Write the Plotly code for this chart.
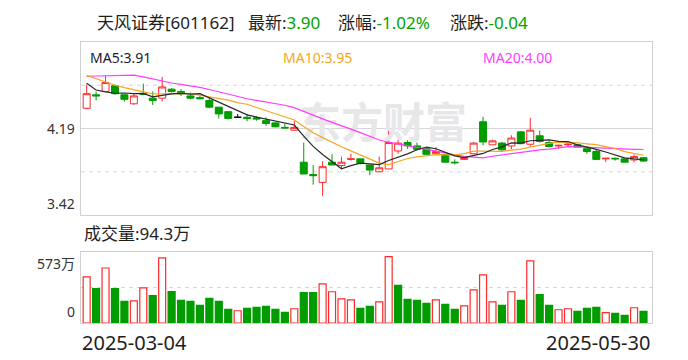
import plotly.graph_objects as go

# ---------------- data ----------------
stock_name = "天风证券"
stock_code = "601162"

dates = ["2025-03-04", "2025-03-05", "2025-03-06", "2025-03-07", "2025-03-10", "2025-03-11", "2025-03-12",
         "2025-03-13", "2025-03-14", "2025-03-17", "2025-03-18", "2025-03-19", "2025-03-20", "2025-03-21",
         "2025-03-24", "2025-03-25", "2025-03-26", "2025-03-27", "2025-03-28", "2025-03-31",
         "2025-04-01", "2025-04-02", "2025-04-03", "2025-04-07", "2025-04-08", "2025-04-09", "2025-04-10",
         "2025-04-11", "2025-04-14", "2025-04-15", "2025-04-16", "2025-04-17", "2025-04-18", "2025-04-21",
         "2025-04-22", "2025-04-23", "2025-04-24", "2025-04-25", "2025-04-28", "2025-04-29", "2025-04-30",
         "2025-05-06", "2025-05-07", "2025-05-08", "2025-05-09", "2025-05-12", "2025-05-13", "2025-05-14",
         "2025-05-15", "2025-05-16", "2025-05-19", "2025-05-20", "2025-05-21", "2025-05-22", "2025-05-23",
         "2025-05-26", "2025-05-27", "2025-05-28", "2025-05-29", "2025-05-30"]

opens = [4.37, 4.49, 4.52, 4.57, 4.49, 4.41, 4.50, 4.46, 4.46, 4.54,
         4.52, 4.48, 4.465, 4.44, 4.38, 4.34, 4.29, 4.29, 4.285, 4.26,
         4.24, 4.20, 4.175, 3.89, 3.78, 3.71, 3.89, 3.86, 3.915, 3.92,
         3.865, 3.805, 3.83, 3.99, 4.065, 4.035, 4.01, 3.965, 3.96, 3.89,
         3.915, 3.965, 4.25, 4.045, 4.06, 4.035, 4.16, 4.05, 4.125, 4.065,
         4.035, 4.045, 4.045, 4.01, 3.985, 3.92, 3.925, 3.92, 3.91, 3.93]
highs = [4.58, 4.52, 4.66, 4.58, 4.49, 4.50, 4.59, 4.52, 4.65, 4.55,
         4.54, 4.51, 4.48, 4.47, 4.38, 4.34, 4.32, 4.32, 4.30, 4.29,
         4.245, 4.235, 4.255, 4.065, 3.865, 3.90, 3.96, 3.94, 3.965, 3.92,
         3.865, 3.94, 4.19, 4.09, 4.085, 4.065, 4.025, 4.025, 3.96, 3.915,
         3.945, 4.07, 4.295, 4.09, 4.07, 4.13, 4.165, 4.285, 4.17, 4.08,
         4.045, 4.065, 4.055, 4.01, 4.00, 3.925, 3.93, 3.92, 3.96, 3.935]
lows = [4.36, 4.44, 4.52, 4.49, 4.43, 4.40, 4.49, 4.40, 4.43, 4.51,
        4.48, 4.45, 4.45, 4.37, 4.28, 4.27, 4.29, 4.255, 4.26, 4.215,
        4.20, 4.19, 4.17, 3.785, 3.69, 3.59, 3.865, 3.825, 3.905, 3.87,
        3.775, 3.805, 3.83, 3.965, 4.01, 3.995, 3.96, 3.965, 3.89, 3.87,
        3.91, 3.965, 4.04, 4.045, 3.99, 4.005, 4.05, 4.03, 4.065, 4.02,
        4.01, 4.03, 4.025, 3.965, 3.915, 3.89, 3.905, 3.89, 3.89, 3.895]
closes = [4.50, 4.48, 4.60, 4.50, 4.45, 4.48, 4.495, 4.44, 4.56, 4.52,
          4.50, 4.46, 4.455, 4.38, 4.32, 4.28, 4.29, 4.28, 4.275, 4.235,
          4.205, 4.195, 4.20, 3.785, 3.77, 3.85, 3.865, 3.89, 3.92, 3.88,
          3.82, 3.84, 4.065, 4.06, 4.035, 4.005, 3.96, 3.985, 3.89, 3.885,
          3.93, 4.06, 4.07, 4.08, 4.00, 4.105, 4.055, 4.175, 4.075, 4.03,
          4.04, 4.05, 4.025, 3.985, 3.915, 3.925, 3.92, 3.89, 3.94, 3.90]
prev_close = 4.40  # close of the session before the first one shown

volumes = [372, 278, 444, 278, 174, 179, 284, 222, 525, 254,
           182, 174, 142, 198, 174, 110, 99, 118, 126, 134,
           110, 86, 115, 246, 246, 316, 252, 195, 187, 118,
           134, 171, 536, 303, 190, 182, 158, 187, 150, 110,
           139, 268, 388, 171, 142, 252, 182, 501, 230, 142,
           107, 115, 94, 118, 126, 83, 78, 62, 123, 94.3]  # 万股

ma5 = [4.592, 4.533, 4.516, 4.504, 4.506, 4.501, 4.503, 4.471, 4.485, 4.498,
       4.503, 4.496, 4.500, 4.462, 4.423, 4.380, 4.345, 4.311, 4.292, 4.274,
       4.258, 4.240, 4.221, 4.123, 4.031, 3.959, 3.894, 3.832, 3.859, 3.881,
       3.875, 3.869, 3.905, 3.934, 3.964, 4.001, 4.025, 4.010, 3.975, 3.946,
       3.931, 3.951, 3.968, 4.003, 4.026, 4.062, 4.060, 4.081, 4.082, 4.088,
       4.075, 4.074, 4.044, 4.026, 4.004, 3.981, 3.955, 3.928, 3.919, 3.912]
ma10 = [4.663, 4.634, 4.607, 4.575, 4.554, 4.537, 4.516, 4.498, 4.498, 4.502,
        4.502, 4.500, 4.486, 4.474, 4.461, 4.442, 4.421, 4.406, 4.377, 4.349,
        4.319, 4.293, 4.266, 4.208, 4.153, 4.109, 4.067, 4.027, 3.991, 3.956,
        3.917, 3.882, 3.869, 3.897, 3.923, 3.938, 3.947, 3.958, 3.955, 3.955,
        3.966, 3.988, 3.989, 3.989, 3.986, 3.997, 4.006, 4.025, 4.043, 4.057,
        4.069, 4.067, 4.063, 4.054, 4.046, 4.028, 4.012, 3.984, 3.968, 3.952]
ma20 = [4.655, 4.658, 4.660, 4.662, 4.664, 4.665, 4.650, 4.632, 4.612, 4.595,
        4.583, 4.570, 4.556, 4.537, 4.516, 4.494, 4.474, 4.455, 4.440, 4.426,
        4.411, 4.397, 4.376, 4.341, 4.307, 4.276, 4.244, 4.217, 4.184, 4.153,
        4.118, 4.088, 4.068, 4.053, 4.038, 4.024, 4.007, 3.993, 3.973, 3.956,
        3.942, 3.935, 3.929, 3.943, 3.955, 3.968, 3.977, 3.992, 3.999, 4.006,
        4.018, 4.028, 4.026, 4.022, 4.016, 4.013, 4.011, 4.006, 4.005, 4.003]

price_min, price_max = 3.42, 4.96
price_mid = 4.19
vol_max = 573

# ---------------- styles ----------------
W, H = 688, 360
RED = "#ff2a2a"
GREEN = "#009c00"
GRID = "#d6d6d6"
FRAME = "#d0d0d0"
FONT = "Noto Sans, Noto Sans CJK SC, sans-serif"
TXT = "#1e1e1e"

x_left, x_right = 81, 652
main_top, main_bot = 42, 215
vol_top, vol_bot = 252, 323

idx = list(range(len(dates)))
x_range = [-0.6, len(dates) - 0.1]


def px(xp):
    return xp / W


def py(yp):
    return 1 - yp / H


fig = go.Figure()

# watermark (behind everything)
fig.add_trace(go.Scatter(x=[31.4], y=[4.195], mode="text", text=["东方财富"],
                         textfont=dict(size=42, color="#e7e7ea", family="Noto Sans CJK SC", weight="bold"),
                         hoverinfo="skip", showlegend=False, xaxis="x", yaxis="y"))


def subset(cond):
    ii = [i for i in idx if cond(i)]
    return (ii, [opens[i] for i in ii], [highs[i] for i in ii],
            [lows[i] for i in ii], [closes[i] for i in ii])


groups = [
    (lambda i: closes[i] > opens[i], RED, "#ffffff"),
    (lambda i: closes[i] < opens[i], GREEN, GREEN),
    (lambda i: closes[i] == opens[i], "#000000", "#000000"),
]
for cond, lc, fc in groups:
    xs, o, h, l, c = subset(cond)
    if not xs:
        continue
    style = dict(line=dict(color=lc, width=1), fillcolor=fc)
    fig.add_trace(go.Candlestick(x=xs, open=o, high=h, low=l, close=c,
                                 increasing=style, decreasing=style,
                                 whiskerwidth=0, showlegend=False,
                                 xaxis="x", yaxis="y"))

# moving averages
for vals, col in [(ma20, "#ff3cff"), (ma10, "#f5a623"), (ma5, "#2a2a2a")]:
    fig.add_trace(go.Scatter(x=idx, y=vals, mode="lines", line=dict(color=col, width=1.2),
                             showlegend=False, hoverinfo="skip", xaxis="x", yaxis="y"))

# volume
prevs = [prev_close] + closes[:-1]
up = [closes[i] >= prevs[i] for i in idx]
fig.add_trace(go.Bar(x=idx, y=volumes, width=0.74,
                     marker=dict(color=["#ffffff" if u else GREEN for u in up],
                                 line=dict(color=[RED if u else GREEN for u in up], width=1.2)),
                     showlegend=False, hoverinfo="skip", xaxis="x2", yaxis="y2"))

# ---------------- layout ----------------
axis_common = dict(showline=True, mirror=True, linecolor=FRAME, linewidth=1,
                   zeroline=False, ticks="", showticklabels=False, fixedrange=True)

fig.update_layout(
    width=W, height=H, margin=dict(l=0, r=0, t=0, b=0), autosize=False,
    paper_bgcolor="white", plot_bgcolor="white",
    boxgap=0.26, boxgroupgap=0, bargap=0.26,
    font=dict(family=FONT, color=TXT),
    xaxis=dict(domain=[px(x_left), px(x_right)], range=x_range, showgrid=False,
               rangeslider=dict(visible=False), anchor="y", **axis_common),
    yaxis=dict(domain=[py(main_bot), py(main_top)], range=[price_min, price_max],
               tickvals=[price_mid], showgrid=True, gridcolor=GRID, gridwidth=1,
               anchor="x", **axis_common),
    xaxis2=dict(domain=[px(x_left), px(x_right)], range=x_range, showgrid=False,
                anchor="y2", **axis_common),
    yaxis2=dict(domain=[py(vol_bot), py(vol_top)], range=[0, vol_max], showgrid=False,
                anchor="x2", **axis_common),
)

dash = dict(color=GRID, width=1, dash="4px,4px")
for yv in [(price_min + price_mid) / 2, (price_mid + price_max) / 2]:
    fig.add_shape(type="line", xref="x domain", x0=0, x1=1, yref="y", y0=yv, y1=yv,
                  line=dash, layer="below")
fig.add_shape(type="line", xref="x2 domain", x0=0, x1=1, yref="y2", y0=vol_max / 2, y1=vol_max / 2,
              line=dash, layer="below")

ann = []
lab = dict(size=14, color="#333333", family=FONT)
ann.append(dict(x=px(77), xref="paper", y=price_mid, yref="y", text=f"{price_mid:.2f}",
                xanchor="right", yanchor="middle", showarrow=False, font=lab))
ann.append(dict(x=px(77), xref="paper", y=price_min, yref="y", text=f"{price_min:.2f}",
                xanchor="right", yanchor="bottom", showarrow=False, font=lab))
ann.append(dict(x=px(77), xref="paper", y=vol_max, yref="y2", text=f"{vol_max}万",
                xanchor="right", yanchor="top", showarrow=False, font=lab))
ann.append(dict(x=px(77), xref="paper", y=0, yref="y2", text="0",
                xanchor="right", yanchor="bottom", showarrow=False, font=lab))

# title line
last = closes[-1]
chg = closes[-1] - closes[-2]
pct = chg / closes[-2] * 100
G = "#00a400"
tfont = dict(size=17, color=TXT, family=FONT)
ty = py(22)
ann.append(dict(x=px(237), y=ty, xref="paper", yref="paper", xanchor="right", yanchor="middle",
                text=f"{stock_name}[{stock_code}]", showarrow=False, font=tfont))
ann.append(dict(x=px(246), y=ty, xref="paper", yref="paper", xanchor="left", yanchor="middle",
                text=f"最新:<span style='color:{G}'>{last:.2f}</span>", showarrow=False, font=tfont))
ann.append(dict(x=px(336), y=ty, xref="paper", yref="paper", xanchor="left", yanchor="middle",
                text=f"涨幅:<span style='color:{G}'>{pct:.2f}%</span>", showarrow=False, font=tfont))
ann.append(dict(x=px(448), y=ty, xref="paper", yref="paper", xanchor="left", yanchor="middle",
                text=f"涨跌:<span style='color:{G}'>{chg:.2f}</span>", showarrow=False, font=tfont))

# MA legend
my = py(57)
ann.append(dict(x=px(153), y=my, xref="paper", yref="paper", xanchor="right", yanchor="middle",
                text=f"MA5:{ma5[-1]:.2f}", showarrow=False, font=dict(size=14, color="#1a1a3a", family=FONT)))
ann.append(dict(x=px(281), y=my, xref="paper", yref="paper", xanchor="left", yanchor="middle",
                text=f"MA10:{ma10[-1]:.2f}", showarrow=False, font=dict(size=14, color="#f5a623", family=FONT)))
ann.append(dict(x=px(481), y=my, xref="paper", yref="paper", xanchor="left", yanchor="middle",
                text=f"MA20:{ma20[-1]:.2f}", showarrow=False, font=dict(size=14, color="#ff3cff", family=FONT)))

# volume label
ann.append(dict(x=px(82), y=py(233), xref="paper", yref="paper", xanchor="left", yanchor="middle",
                text=f"成交量:{volumes[-1]:.1f}万", showarrow=False, font=dict(size=17, color=TXT, family=FONT)))

# date labels
dfont = dict(size=20, color=TXT, family=FONT)
ann.append(dict(x=px(80), y=py(342), xref="paper", yref="paper", xanchor="left", yanchor="middle",
                text=dates[0], showarrow=False, font=dfont))
ann.append(dict(x=px(652), y=py(342), xref="paper", yref="paper", xanchor="right", yanchor="middle",
                text=dates[-1], showarrow=False, font=dfont))

fig.update_layout(annotations=ann)
fig.write_html("out.html", config={"displayModeBar": False},
               post_script="document.body.style.margin='0';")
